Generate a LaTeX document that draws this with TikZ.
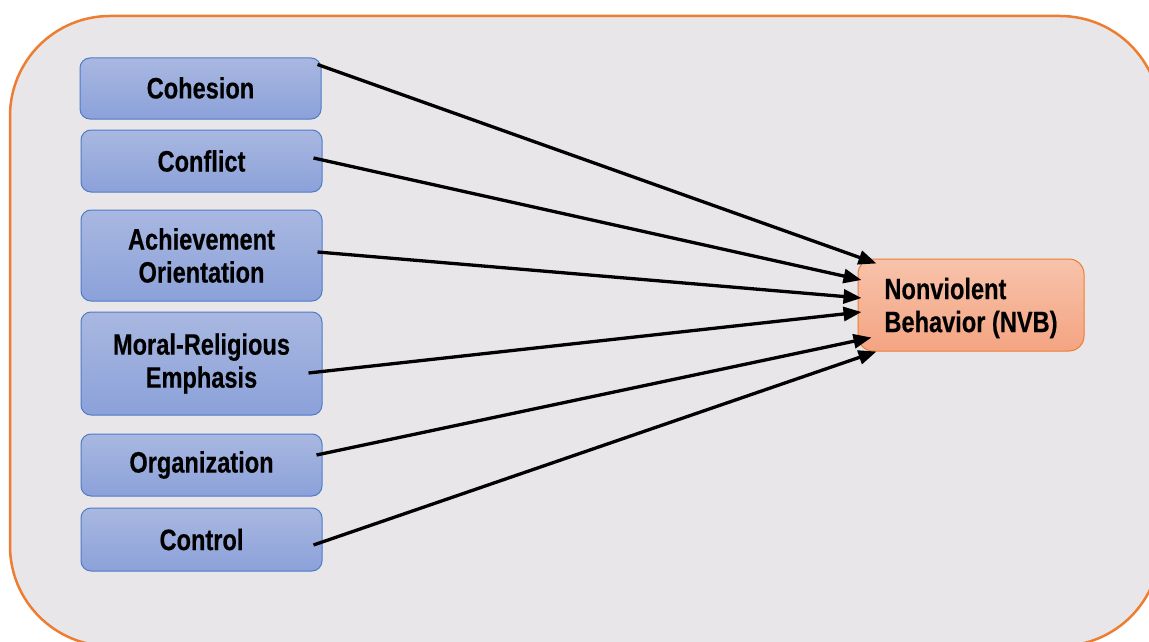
\documentclass[tikz,border=0pt]{standalone}
\usepackage{fontspec}
\newfontfamily\lblfont{Liberation Sans}[FakeStretch=0.8,FakeBold=0.4]
\usetikzlibrary{arrows.meta}
\definecolor{panelfill}{HTML}{E8E6E8}
\definecolor{paneledge}{HTML}{ED7D31}
\definecolor{bluetop}{HTML}{A9B8E1}
\definecolor{bluebot}{HTML}{8BA1D9}
\definecolor{blueedge}{HTML}{4F7BC9}
\definecolor{orgtop}{HTML}{F7C3AB}
\definecolor{orgbot}{HTML}{F4A482}
\tikzset{
  lbl/.style={font=\lblfont\bfseries\fontsize{29.5}{33}\selectfont},
  factor/.style={rounded corners=10pt, draw=blueedge, line width=1pt,
    top color=bluetop, bottom color=bluebot, minimum width=241pt,
    inner sep=0pt, align=center, lbl},
  outcome/.style={rounded corners=15pt, draw=paneledge, line width=1pt,
    top color=orgtop, bottom color=orgbot, minimum width=226pt,
    minimum height=92pt, inner sep=0pt},
  link/.style={line width=3.3pt, -{Triangle[length=18pt,width=14pt]}}
}
\begin{document}
\begin{tikzpicture}[x=1pt,y=-1pt]
\useasboundingbox (0,0) rectangle (1149,642);
\clip (0,0) rectangle (1149,642);
% background panel
\draw[fill=panelfill, draw=paneledge, line width=2.5pt, rounded corners=100pt]
  (10,16) rectangle (1160,646);
% predictor boxes
\node[factor, minimum height=61pt] (coh) at (200.5,88.5) {\raisebox{1.5pt}{Cohesion}};
\node[factor, minimum height=62pt] (con) at (201.5,161) {Conflict};
\node[factor, minimum height=91pt] (ach) at (201.5,255.5) {Achievement\\Orientation};
\node[factor, minimum height=103pt] (mor) at (201.5,363.5) {Moral-Religious\\Emphasis};
\node[factor, minimum height=62pt] (org) at (201.5,465) {Organization};
\node[factor, minimum height=63pt] (ctl) at (201.5,539.5) {Control};
% outcome box
\node[outcome, label={[lbl, align=left, yshift=-3pt]center:Nonviolent\\Behavior (NVB)}]
  (nvb) at (971,305) {};
% paths
\draw[link] ([shift={(-4,7)}]coh.north east) -- ([shift={(19,5)}]nvb.north west);
\draw[link] ([shift={(-9,-3)}]con.east) -- ([shift={(4,-25)}]nvb.west);
\draw[link] ([shift={(-5,-3.5)}]ach.east) -- ([shift={(4,-7)}]nvb.west);
\draw[link] ([shift={(-14,9.5)}]mor.east) -- ([shift={(4,7)}]nvb.west);
\draw[link] ([shift={(-6,-10)}]org.east) -- ([shift={(14,-14)}]nvb.south west);
\draw[link] ([shift={(-9,5.5)}]ctl.east) -- ([shift={(19,0)}]nvb.south west);
\end{tikzpicture}
\end{document}
